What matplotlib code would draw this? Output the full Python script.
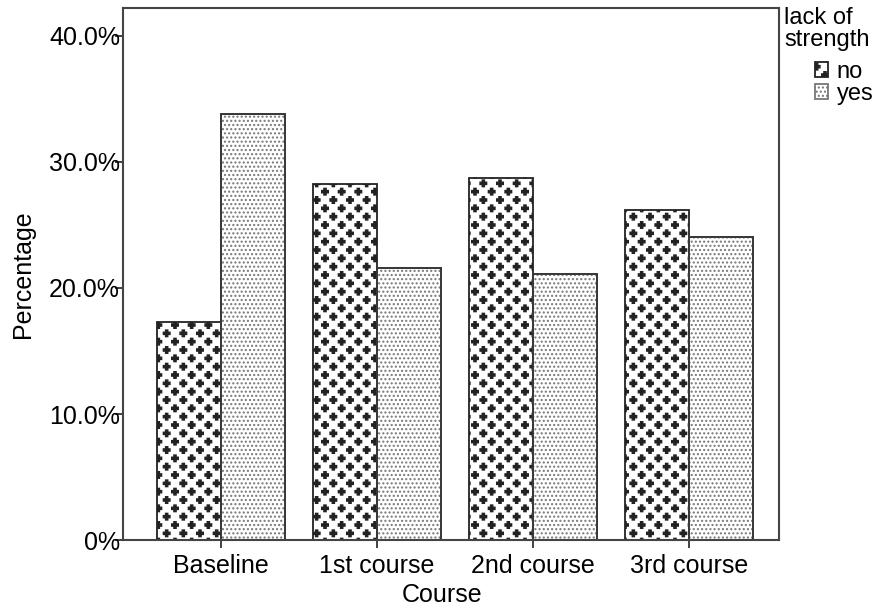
import numpy as np
import matplotlib
matplotlib.use("Agg")
import matplotlib.pyplot as plt
from matplotlib import hatch as mhatch
from matplotlib.path import Path

plt.rcParams['font.family'] = ['Liberation Sans', 'DejaVu Sans']
plt.rcParams['hatch.linewidth'] = 1.0

courses = ["Baseline", "1st course", "2nd course", "3rd course"]
pct_no = [17.3, 28.2, 28.7, 26.2]
pct_yes = [33.8, 21.6, 21.1, 24.0]
ytick_vals = [0, 10, 20, 30, 40]
ytick_labels = ["0%", "10.0%", "20.0%", "30.0%", "40.0%"]


class PlusHatch(mhatch.HatchPatternBase):
    """Filled plus signs on a staggered lattice, used in place of 'O'."""
    arm = 0.033
    thick = 0.011

    def __init__(self, hatch, density):
        self.n = hatch.count('O') * density
        if self.n == 0:
            self.num_vertices = 0
            return
        n = self.n
        self.num_shapes = (n + 1) * (n + 1) + n * n
        self.shape = self._plus()
        self.num_vertices = self.num_shapes * len(self.shape)

    def _plus(self):
        a, t = self.arm, self.thick
        return np.array([[-t, a], [t, a], [t, t], [a, t], [a, -t], [t, -t],
                         [t, -a], [-t, -a], [-t, -t], [-a, -t], [-a, t],
                         [-t, t], [-t, a]])

    def set_vertices_and_codes(self, vertices, codes):
        n = self.n
        step = 1.0 / n
        codes1 = np.full(len(self.shape), Path.LINETO, dtype=Path.code_type)
        codes1[0] = Path.MOVETO
        codes1[-1] = Path.CLOSEPOLY
        vparts, cparts = [], []
        for row in range(2 * n + 1):
            y = row * step / 2
            if row % 2 == 0:
                cols = np.linspace(0, 1, n + 1)
            else:
                cols = np.linspace(step / 2, 1 - step / 2, n)
            for x in cols:
                vparts.append(self.shape + [x, y])
                cparts.append(codes1)
        np.concatenate(vparts, out=vertices)
        np.concatenate(cparts, out=codes)


mhatch._hatch_types = [h for h in mhatch._hatch_types
                       if h is not mhatch.LargeCircles] + [PlusHatch]

fig = plt.figure(figsize=(8.9, 6.09), dpi=100)
ax = fig.add_axes([0.138, 0.113, 0.737, 0.874])

x = np.arange(len(courses))
w = 0.41
ax.bar(x - w / 2, pct_no, w, facecolor='white', edgecolor='#222222',
       hatch='O', linewidth=1.3, label='no')
ax.bar(x + w / 2, pct_yes, w, facecolor='white', edgecolor='#777777',
       hatch='....', linewidth=1.3, label='yes')
ax.bar(x + w / 2, pct_yes, w, facecolor='none', edgecolor='#333333', linewidth=1.3)

ax.set_xlim(-0.628, 3.577)
ax.set_ylim(0, 42.2)
ax.set_xticks(x)
ax.set_xticklabels(courses, fontsize=18)
ax.set_yticks(ytick_vals)
ax.set_yticklabels(ytick_labels, fontsize=18)
ax.tick_params(axis='both', length=6, width=1.3, color='#333333')
ax.tick_params(axis='y', pad=-4)
ax.tick_params(axis='x', pad=4)
ax.set_xlabel("Course", fontsize=18)
ax.set_ylabel("Percentage", fontsize=18)
ax.xaxis.set_label_coords(0.486, -0.081)
ax.yaxis.set_label_coords(-0.134, 0.5)
for s in ax.spines.values():
    s.set_linewidth(1.5)
    s.set_color('#444444')

fig.text(0.881, 0.988, "lack of\nstrength", fontsize=17, ha='left', va='top',
         linespacing=1.0)
leg = fig.legend(loc='upper left', bbox_to_anchor=(0.916, 0.9), frameon=False,
                 fontsize=17, handlelength=0.55, handleheight=0.55,
                 handletextpad=0.35, labelspacing=0.0, borderaxespad=0.0,
                 borderpad=0.0)

fig.savefig("out.png", dpi=100)
